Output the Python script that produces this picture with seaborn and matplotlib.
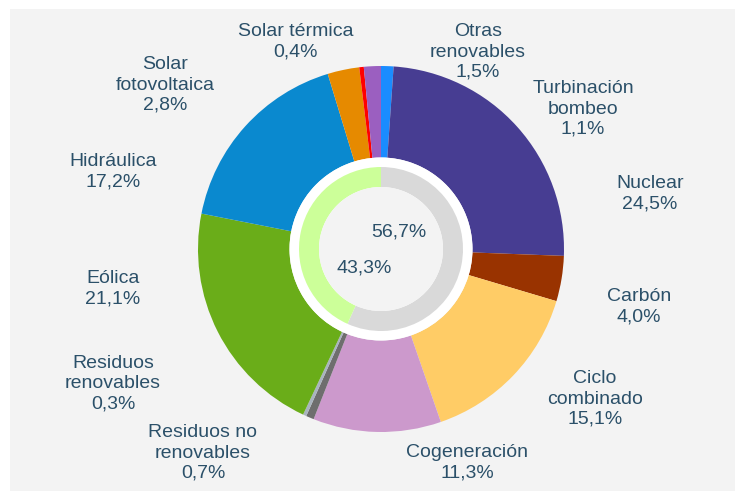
import matplotlib
matplotlib.use("Agg")
import matplotlib.pyplot as plt
from matplotlib.patches import Circle
import seaborn as sns

# ---- data ----
categories = ["Turbinación\nbombeo", "Nuclear", "Carbón", "Ciclo\ncombinado",
              "Cogeneración", "Residuos no\nrenovables", "Residuos\nrenovables",
              "Eólica", "Hidráulica", "Solar\nfotovoltaica", "Solar térmica",
              "Otras\nrenovables"]
values = [1.1, 24.5, 4.0, 15.1, 11.3, 0.7, 0.3, 21.1, 17.2, 2.8, 0.4, 1.5]
value_labels = ["1,1%", "24,5%", "4,0%", "15,1%", "11,3%", "0,7%", "0,3%",
                "21,1%", "17,2%", "2,8%", "0,4%", "1,5%"]
colors = ["#1a8cff", "#473d92", "#993300", "#ffcc66", "#cc99cc", "#6e6e6e",
          "#a9b4bf", "#6aad19", "#0a89cf", "#e68a00", "#ff0000", "#9b5fc0"]

groups = ["No renovable", "Renovable"]
group_values = [56.7, 43.3]
group_labels = ["56,7%", "43,3%"]
group_colors = ["#d9d9d9", "#ccff99"]

# ---- layout (pixel coordinates, y from top) ----
W, H = 735, 491
cx, cy = 381, 249
label_pos = {
    "Turbinación\nbombeo": (583, 109),
    "Nuclear": (650, 194),
    "Carbón": (639, 307),
    "Ciclo\ncombinado": (595, 399),
    "Cogeneración": (467, 463),
    "Residuos no\nrenovables": (203, 453),
    "Residuos\nrenovables": (113, 384),
    "Eólica": (113, 289),
    "Hidráulica": (113, 172),
    "Solar\nfotovoltaica": (165, 85),
    "Solar térmica": (296, 42),
    "Otras\nrenovables": (478, 52),
}
group_pos = [(399, 232), (364, 268)]

sns.set_theme(style="white")
plt.rcParams["font.family"] = ["Liberation Sans", "DejaVu Sans"]

bg = "#f3f3f3"
txt = "#2b5069"

fig = plt.figure(figsize=(W / 100, H / 100), dpi=100)
fig.patch.set_facecolor("white")
ax = fig.add_axes([0, 0, 1, 1])

# grey panel
ax.add_patch(plt.Rectangle((10, 0), W - 10, H - 9, facecolor=bg, edgecolor="none", zorder=0))

pal = sns.color_palette(colors)
ax.pie(values, colors=pal, startangle=90, counterclock=False,
       center=(cx, H - cy), radius=183, frame=True,
       wedgeprops=dict(width=183 - 91.5, linewidth=0.4, edgecolor="none"))

ax.add_patch(Circle((cx, H - cy), 91.5, facecolor="white", edgecolor="none", zorder=2))
inner, _ = ax.pie(group_values, colors=group_colors, startangle=90, counterclock=False,
                  center=(cx, H - cy), radius=82, frame=True,
                  wedgeprops=dict(width=20, linewidth=0))
for w in inner:
    w.set_zorder(3)
ax.add_patch(Circle((cx, H - cy), 62, facecolor=bg, edgecolor="none", zorder=4))

ax.set_xlim(0, W)
ax.set_ylim(0, H)
ax.set_aspect("equal")
ax.axis("off")

for cat, lab in zip(categories, value_labels):
    x, y = label_pos[cat]
    ax.text(x, H - y, f"{cat}\n{lab}", ha="center", va="center", fontsize=14,
            color=txt, linespacing=1.25, zorder=5)

for (x, y), lab in zip(group_pos, group_labels):
    ax.text(x, H - y, lab, ha="center", va="center", fontsize=14, color=txt, zorder=5)

fig.savefig("out.png", dpi=100, facecolor="white")
